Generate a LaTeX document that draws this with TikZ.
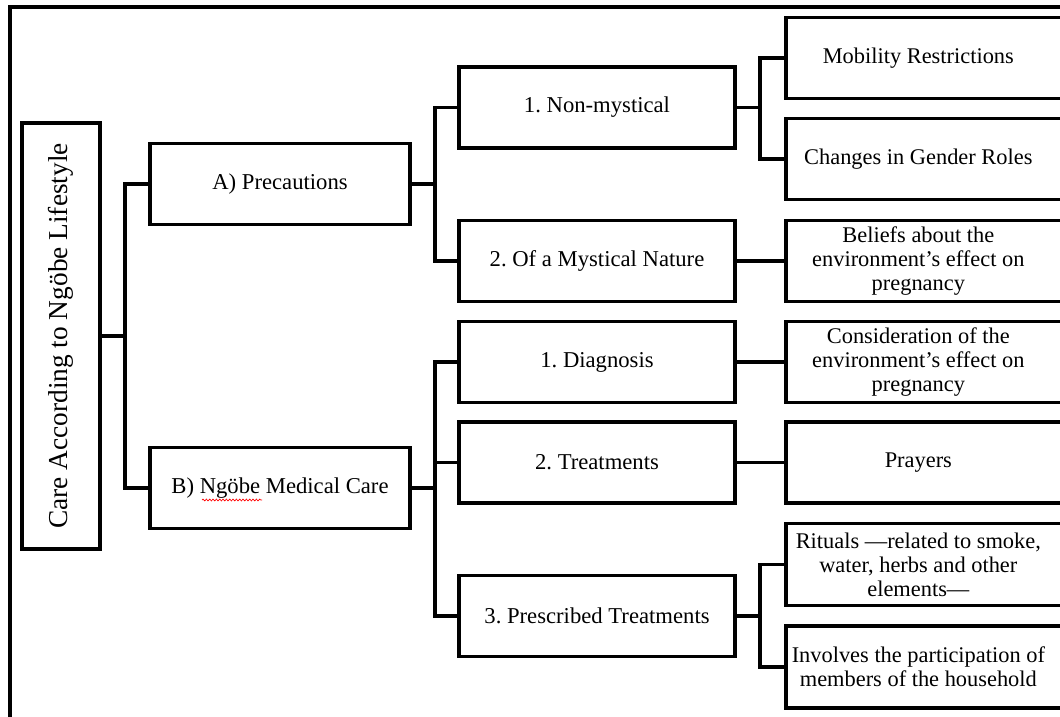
\documentclass[tikz,border=0pt]{standalone}
\usepackage{fontspec}
\setmainfont{Liberation Serif}
\usepackage{tikz}
\usetikzlibrary{calc,decorations.pathmorphing}
\frenchspacing

\begin{document}
\begin{tikzpicture}[x=0.75pt,y=-0.75pt,
    box/.style={draw,line width=2.4pt,minimum height=60.75pt,align=center,inner sep=1pt,
      font=\fontsize{17}{18}\selectfont},
    boxA/.style={box,minimum width=195pt},
    boxB/.style={box,minimum width=207pt},
    boxC/.style={box,minimum width=208.5pt},
    boxtext/.style={align=center,inner sep=1pt,xshift=-5pt,font=\fontsize{16.8}{18}\selectfont},
    link/.style={line width=2.4pt}]
			\def\xA{280}
			\def\xB{597}
			\def\xC{925}
			\useasboundingbox (0,0) rectangle (1060,717);
			\clip (0,0) rectangle (1060,717);
			\draw[line width=2.6pt] (10,7) rectangle (1080,740);
			% root
			\node[box,minimum width=58.5pt,minimum height=319.5pt,font=\fontsize{20.5}{22}\selectfont] (root) at (61,336)
				{\rotatebox{90}{Care According to Ngöbe Lifestyle}};
			% first level
			\node[boxA] (prec) at (\xA,184) {A) Precautions};
			\node[boxA] (care) at (\xA,488) {B) Ngöbe Medical Care};
			\draw[red,line width=0.5pt,decorate,decoration={snake,amplitude=0.7pt,segment length=2.5pt}]
				(202,500) -- (262,500);
			% second level
			\node[boxB] (nonmyst) at (\xB,107.5) {1. Non-mystical};
			\node[boxB] (mystic) at (\xB,261) {2. Of a Mystical Nature};
			\node[boxB] (diag) at (\xB,362) {1. Diagnosis};
			\node[boxB] (treat) at (\xB,462.5) {2. Treatments};
			\node[boxB] (presc) at (\xB,616) {3. Prescribed Treatments};
			% third level (text sits a little left of centre)
			\node[boxC,label={[boxtext]center:{Mobility Restrictions}}] (mobil) at (\xC,58) {};
			\node[boxC,label={[boxtext]center:{Changes in Gender Roles}}] (gender) at (\xC,159) {};
			\node[boxC,label={[boxtext]center:{Beliefs about the\\environment's effect on\\pregnancy}}] (belief) at (\xC,261) {};
			\node[boxC,label={[boxtext]center:{Consideration of the\\environment's effect on\\pregnancy}}] (consid) at (\xC,362) {};
			\node[boxC,label={[boxtext]center:{Prayers}}] (prayer) at (\xC,462.5) {};
			\node[boxC,minimum height=61.5pt,label={[boxtext]center:{Rituals ---related to smoke,\\water, herbs and other\\elements---}}] (ritual) at (\xC,564.5) {};
			\node[boxC,minimum height=61.5pt,label={[boxtext]center:{Involves the participation of\\members of the household}}] (house) at (\xC,667) {};
			% connectors
			\coordinate (jroot) at (125,336);
			\coordinate (jprec) at (435,184);
			\coordinate (jcare) at (435,488);
			\coordinate (jnon) at (760,107.5);
			\coordinate (jpresc) at (760,616);
			\draw[link] (root) -- (jroot);
			\draw[link] (prec.west) -| (jroot) |- (care.west);
			\draw[link] (prec) -- (jprec);
			\draw[link] (nonmyst.west) -| (jprec) |- (mystic.west);
			\draw[link] (care) -- (jcare);
			\draw[link] (diag.west) -| (jcare) |- (presc.west);
			\draw[link] (jcare) |- (treat.west);
			\draw[link] (nonmyst) -- (jnon);
			\draw[link] (mobil.west) -| (jnon) |- (gender.west);
			\draw[link] (mystic) -- (belief);
			\draw[link] (diag) -- (consid);
			\draw[link] (treat) -- (prayer);
			\draw[link] (presc) -- (jpresc);
			\draw[link] (ritual.west) -| (jpresc) |- (house.west);
\end{tikzpicture}
\end{document}
